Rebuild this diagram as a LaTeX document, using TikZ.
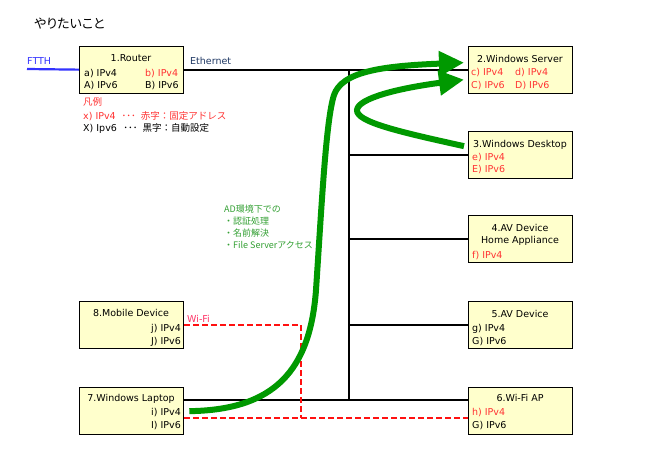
\documentclass[tikz,border=0pt]{standalone}
\usepackage{fontspec}
\setmainfont{DejaVu Sans}
\newfontfamily\jp{Noto Sans CJK JP}
\newfontfamily\jpp[RawFeature=+palt]{Noto Sans CJK JP}
\usetikzlibrary{arrows.meta,calc}
\definecolor{boxfill}{HTML}{FFFFCC}
\definecolor{redtxt}{HTML}{FF3333}
\definecolor{wifired}{HTML}{FF1111}
\definecolor{wifilbl}{HTML}{FF3366}
\definecolor{ftthblue}{HTML}{3333FF}
\definecolor{ethtxt}{HTML}{1F3864}
\definecolor{adgreen}{HTML}{33A033}
\definecolor{arrowgreen}{HTML}{009900}
\begin{document}
\begin{tikzpicture}[x=1pt,y=-1pt,font=\fontsize{9.5}{11}\selectfont,
  box/.style={draw=black,line width=1.3pt,fill=boxfill,anchor=north west,
    minimum width=104pt,minimum height=47pt,inner sep=0pt},
  tl/.style={inner sep=0pt,anchor=base west},
  tr/.style={inner sep=0pt,anchor=base east},
  tc/.style={inner sep=0pt,anchor=base},
  rt/.style={text=redtxt},
  wire/.style={draw=black,line width=2pt},
  wifi/.style={draw=wifired,line width=1.8pt,dash pattern=on 6pt off 3pt},
  garrow/.style={draw=arrowgreen,line width=6pt,
    -{Triangle[length=25pt 0 0,width=24pt 0 0]}}]
\useasboundingbox[fill=white] (0,0) rectangle (650,450);

% title
\node[tl,font=\jpp\fontsize{13}{15}\selectfont] (title) at (34,28) {やりたいこと};

% boxes
\node[box] (router) at (79,45.5) {};
\node[box] (server) at (468,45.5) {};
\node[box] (desk) at (468,131) {};
\node[box] (av4) at (468,215) {};
\node[box] (av5) at (468,301) {};
\node[box] (ap) at (468,387) {};
\node[box] (mobile) at (79,301) {};
\node[box] (laptop) at (79,387) {};

% wires
\coordinate (ftth) at (27,69);
\coordinate (bustop) at (349,69);
\coordinate (busbot) at (349,400);
\coordinate (lapeth) at ($(laptop.north east)+(0,13)$);
\coordinate (lapwifi) at ($(laptop.north east)+(0,31)$);
\coordinate (wcorner) at (301,418);
\draw[draw=ftthblue,line width=2.2pt] (ftth) -- (router.west);
\draw[wire] (router.east) -- (router.east -| server.west);
\draw[wire] (bustop) -- (busbot);
\draw[wire] (bustop |- desk.west) -- (desk.west);
\draw[wire] (bustop |- av4.west) -- (av4.west);
\draw[wire] (bustop |- av5.west) -- (av5.west);
\draw[wire] (lapeth) -- (lapeth -| ap.west);
\draw[wifi] (mobile.east) -| (wcorner);
\draw[wifi] (lapwifi) -- (lapwifi -| ap.west);

% labels on wires
\node[tl,text=ftthblue] (ftthlbl) at (27,64) {FTTH};
\node[tl,text=ethtxt] (ethlbl) at (190,64) {Ethernet};
\node[tl,text=wifilbl] (wifilbl) at (187,322) {Wi-Fi};

% router text
\node[tc] (r1) at (131,61) {1.Router};
\node[tl] (r2) at (84,76) {a) IPv4};
\node[tl,rt] (r3) at (145,76) {b) IPv4};
\node[tl] (r4) at (84,88.5) {A) IPv6};
\node[tl] (r5) at (145,88.5) {B) IPv6};

% legend
\node[tl,rt,font=\jp\fontsize{9.5}{11}\selectfont] (lg1) at (83,105) {凡例};
\node[tl,rt] (lg2) at (83,119) {x) IPv4\hspace{6pt}{\jp ･･･}\hspace{5pt}{\jp 赤字：固定アドレス}};
\node[tl] (lg3) at (83,131.5) {X) Ipv6\hspace{6.5pt}{\jp ･･･}\hspace{5pt}{\jp 黒字：自動設定}};

% server text
\node[tc] (s1) at (520,62) {2.Windows Server};
\node[tl,rt] (s2) at (471,75.5) {c) IPv4};
\node[tl,rt] (s3) at (515,75.5) {d) IPv4};
\node[tl,rt] (s4) at (471,88) {C) IPv6};
\node[tl,rt] (s5) at (515,88) {D) IPv6};

% desktop
\node[tc] (d1) at (520,147) {3.Windows Desktop};
\node[tl,rt] (d2) at (472,160) {e) IPv4};
\node[tl,rt] (d3) at (472,172.5) {E) IPv6};

% av4
\node[tc] (a1) at (520,231) {4.AV Device};
\node[tc] (a2) at (520,243.5) {Home Appliance};
\node[tl,rt] (a3) at (472,258) {f) IPv4};

% av5
\node[tc] (b1) at (520,317) {5.AV Device};
\node[tl] (b2) at (472,331.5) {g) IPv4};
\node[tl] (b3) at (472,344) {G) IPv6};

% ap
\node[tc] (p1) at (520,401) {6.Wi-Fi AP};
\node[tl,rt] (p2) at (472,415.5) {h) IPv4};
\node[tl] (p3) at (472,428) {G) IPv6};

% mobile
\node[tc] (m1) at (131,316) {8.Mobile Device};
\node[tr] (m2) at (181,331.5) {j) IPv4};
\node[tr] (m3) at (181,344) {J) IPv6};

% laptop
\node[tc] (l1) at (131,401) {7.Windows Laptop};
\node[tr] (l2) at (181,415) {i) IPv4};
\node[tr] (l3) at (181,428) {I) IPv6};

% AD note
\node[tl,text=adgreen,font=\jp\fontsize{9}{11.8}\selectfont,align=left,anchor=north west] (adnote) at (224,205)
  {AD環境下での\\・認証処理\\・名前解決\\・File Serverアクセス};

% green arrows
\coordinate (gtip1) at ($(server.west)+(-4,-7)$);
\coordinate (gtip2) at ($(server.west)+(-4,10)$);
\coordinate (gstart2) at ($(desk.west)+(-4,-9)$);
\draw[garrow] ($(laptop.east)+(5,0)$) .. controls (275,410) and (310,370) .. (316,290)
  .. controls (322,200) and (326,120) .. (334,95)
  .. controls (342,72) and (380,66) .. (gtip1);
\draw[garrow] (gstart2) .. controls (400,132) and (356,122) .. (357,110)
  .. controls (358,98) and (400,88) .. (gtip2);
\end{tikzpicture}
\end{document}
